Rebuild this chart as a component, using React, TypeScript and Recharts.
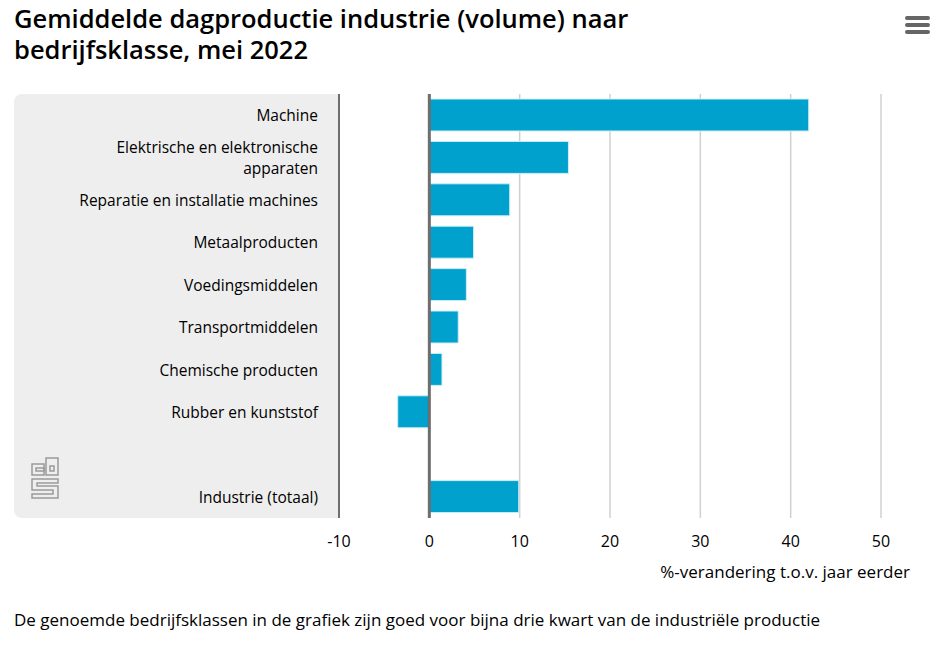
import React from 'react'
import {
  BarChart, Bar, XAxis, YAxis, CartesianGrid, ReferenceLine,
} from 'recharts'

const categories = [
  'Machine',
  'Elektrische en elektronische|apparaten',
  'Reparatie en installatie machines',
  'Metaalproducten',
  'Voedingsmiddelen',
  'Transportmiddelen',
  'Chemische producten',
  'Rubber en kunststof',
  ' ',
  'Industrie (totaal)',
]
const changes: (number | null)[] = [42.0, 15.4, 8.9, 4.9, 4.1, 3.2, 1.4, -3.5, null, 9.9]
const xTicks = [-10, 0, 10, 20, 30, 40, 50]

const data = categories.map((c, i) => ({ name: c, value: changes[i] }))

const FONT = '"Open Sans", sans-serif'

function CatTick(props: any) {
  const { x, y, payload } = props
  const lines = String(payload.value).split('|')
  const lh = 21
  const y0 = y - ((lines.length - 1) * lh) / 2
  return (
    <text x={x} y={y0} textAnchor="end" fill="#000" fontSize={15.5} fontFamily={FONT} dominantBaseline="central">
      {lines.map((l, i) => (
        <tspan key={i} x={x} dy={i === 0 ? 0 : lh}>{l}</tspan>
      ))}
    </text>
  )
}

function CbsLogo() {
  const s = '#9a9a9a'
  return (
    <svg width={30} height={44} style={{ position: 'absolute', left: 30, top: 457 }}>
      <g fill="none" stroke={s} strokeWidth={1.5}>
        <rect x={2} y={7} width={12} height={11} />
        <rect x={6} y={11} width={8} height={3} />
        <rect x={16} y={1} width={12} height={17} />
        <rect x={20} y={9} width={4} height={5} />
        <path d="M2 22 H28 V26 H7 V29 H28 V41 H2 V37 H23 V33 H2 Z" />
      </g>
    </svg>
  )
}

export default function App() {
  return (
    <div style={{ position: 'absolute', left: 0, top: 0, width: 946, height: 646, background: '#fff', fontFamily: FONT }}>
      <div style={{ position: 'absolute', left: 14, top: 3, fontSize: 25.5, fontWeight: 600, lineHeight: '31px', color: '#000' }}>
        Gemiddelde dagproductie industrie (volume) naar<br />bedrijfsklasse, mei 2022
      </div>
      <div style={{ position: 'absolute', left: 905, top: 16 }}>
        {[0, 7, 14].map(t => (
          <div key={t} style={{ position: 'absolute', top: t, width: 25, height: 4, borderRadius: 2, background: '#666' }} />
        ))}
      </div>
      <div style={{ position: 'absolute', left: 14, top: 94, width: 325, height: 424, background: '#eeeeee', borderRadius: '8px 0 0 8px' }} />
      <CbsLogo />
      <div style={{ position: 'absolute', left: 0, top: 0 }}>
        <BarChart
          width={946}
          height={560}
          data={data}
          layout="vertical"
          margin={{ top: 94, right: 65, bottom: 0, left: 14 }}
          barSize={32}
        >
          <CartesianGrid horizontal={false} stroke="#d0d0d0" strokeWidth={1.5} />
          <XAxis
            type="number"
            domain={[-10, 50]}
            ticks={xTicks}
            axisLine={false}
            tickLine={false}
            tick={{ fontSize: 16, fill: '#000', fontFamily: FONT }}
            tickMargin={12}
            height={42}
          />
          <YAxis
            type="category"
            dataKey="name"
            width={325}
            axisLine={{ stroke: '#6e6e6e', strokeWidth: 2 }}
            tickLine={false}
            tick={<CatTick />}
            tickMargin={15}
            interval={0}
          />
          <Bar dataKey="value" fill="#00a1cd" stroke="#cfeef7" strokeWidth={1} isAnimationActive={false} />
          <ReferenceLine x={0} stroke="#6e6e6e" strokeWidth={3} />
        </BarChart>
      </div>
      <div style={{ position: 'absolute', right: 36, top: 560, fontSize: 17, color: '#000' }}>
        %-verandering t.o.v. jaar eerder
      </div>
      <div style={{ position: 'absolute', left: 14, top: 608, fontSize: 17, color: '#000' }}>
        De genoemde bedrijfsklassen in de grafiek zijn goed voor bijna drie kwart van de industriële productie
      </div>
    </div>
  )
}
